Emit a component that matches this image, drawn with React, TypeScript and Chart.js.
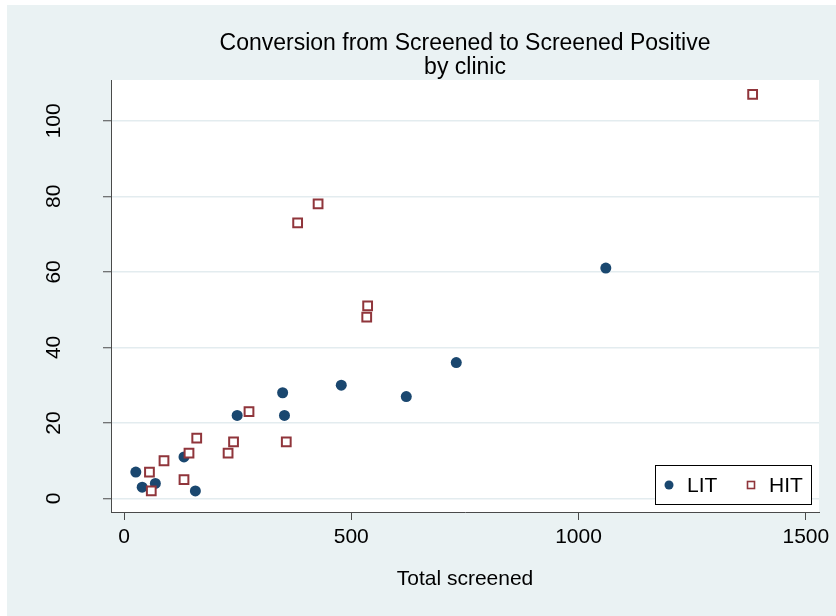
import { useEffect, useRef } from "react";
import { Chart, registerables } from "chart.js";

Chart.register(...registerables);

const titleLines = ["Conversion from Screened to Screened Positive", "by clinic"];
const xAxisTitle = "Total screened";
const seriesNames = ["LIT", "HIT"];

const litX = [26, 40, 69, 132, 157, 249, 349, 353, 478, 621, 731, 1060];
const litY = [7, 3, 4, 11, 2, 22, 28, 22, 30, 27, 36, 61];

const hitX = [56, 60, 88, 132, 143, 160, 229, 241, 275, 357, 382, 427, 534, 536, 1383];
const hitY = [7, 2, 10, 5, 12, 16, 12, 15, 23, 15, 73, 78, 48, 51, 107];

const xTicks = [0, 500, 1000, 1500];
const yTicks = [0, 20, 40, 60, 80, 100];

const FONT = '"Liberation Sans", Arial, Helvetica, sans-serif';
const BG = "#EAF2F3";
const AXIS = "#4a4a4a";
const LIT_COLOR = "#1A476F";
const HIT_COLOR = "#90353B";

const bgPlugin = {
  id: "stataBg",
  beforeDraw(chart: any) {
    const { ctx, width, height, chartArea: a } = chart;
    ctx.save();
    ctx.fillStyle = "#ffffff";
    ctx.fillRect(0, 0, width, height);
    ctx.fillStyle = BG;
    ctx.fillRect(7, 5, width - 7, height - 5);
    ctx.fillStyle = "#ffffff";
    ctx.fillRect(a.left, a.top, a.right - a.left, a.bottom - a.top);
    ctx.restore();
  },
};

const legendPlugin = {
  id: "boxLegend",
  afterDraw(chart: any) {
    const { ctx, chartArea: a } = chart;
    const w = 157;
    const h = 40;
    const x0 = a.right - 7 - w;
    const y0 = a.bottom - 7 - h;
    const ds = chart.data.datasets;
    ctx.save();
    ctx.fillStyle = "#ffffff";
    ctx.fillRect(x0, y0, w, h);
    ctx.strokeStyle = "#000000";
    ctx.lineWidth = 1;
    ctx.strokeRect(x0 + 0.5, y0 + 0.5, w - 1, h - 1);
    const cy = y0 + h / 2;
    ctx.fillStyle = ds[0].backgroundColor;
    ctx.beginPath();
    ctx.arc(x0 + 14, cy, 4.5, 0, Math.PI * 2);
    ctx.fill();
    ctx.font = `21px ${FONT}`;
    ctx.fillStyle = "#000000";
    ctx.textBaseline = "middle";
    ctx.textAlign = "left";
    ctx.fillText(ds[0].label, x0 + 32, cy + 1);
    ctx.strokeStyle = ds[1].borderColor;
    ctx.lineWidth = 1.6;
    ctx.strokeRect(x0 + 96 - 3.5, cy - 3.5, 7, 7);
    ctx.fillText(ds[1].label, x0 + 114, cy + 1);
    ctx.restore();
  },
};

export default function App() {
  const ref = useRef<HTMLCanvasElement | null>(null);

  useEffect(() => {
    if (!ref.current) return;
    Chart.defaults.font.family = FONT;
    const chart = new Chart(ref.current, {
      type: "scatter",
      data: {
        datasets: [
          {
            label: seriesNames[0],
            data: litX.map((x, i) => ({ x, y: litY[i] })),
            pointStyle: "circle",
            pointRadius: 5.5,
            backgroundColor: LIT_COLOR,
            borderColor: LIT_COLOR,
            borderWidth: 0,
            order: 1,
          },
          {
            label: seriesNames[1],
            data: hitX.map((x, i) => ({ x, y: hitY[i] })),
            pointStyle: "rect",
            pointRadius: 6.2,
            backgroundColor: "rgba(255,255,255,1)",
            borderColor: HIT_COLOR,
            borderWidth: 2,
            order: 0,
          },
        ],
      },
      options: {
        animation: false,
        responsive: false,
        events: [],
        layout: { padding: { top: 0, left: 0, right: 17, bottom: 0 } },
        plugins: {
          legend: { display: false },
          tooltip: { enabled: false },
          title: {
            display: true,
            text: titleLines,
            fullSize: false,
            color: "#000000",
            font: { size: 23, weight: "normal", family: FONT, lineHeight: 24 / 23 },
            padding: { top: 32, bottom: 0 },
          },
        },
        scales: {
          x: {
            type: "linear",
            min: -28.6,
            max: 1529,
            afterBuildTicks: (s: any) => {
              s.ticks = xTicks.map((v) => ({ value: v }));
            },
            afterFit: (s: any) => {
              s.height = 104;
            },
            grid: {
              display: true,
              drawOnChartArea: false,
              drawTicks: true,
              tickLength: 8,
              tickColor: AXIS,
              tickWidth: 1,
            },
            border: { display: true, color: AXIS, width: 1 },
            ticks: {
              color: "#000000",
              font: { size: 21, family: FONT },
              padding: 4.5,
              maxRotation: 0,
              minRotation: 0,
              autoSkip: false,
              callback: (v: any) => String(v),
            },
            title: {
              display: true,
              text: xAxisTitle,
              color: "#000000",
              font: { size: 21, family: FONT },
              padding: { top: 0, bottom: 24 },
            },
          },
          y: {
            type: "linear",
            min: -3.57,
            max: 110.8,
            afterBuildTicks: (s: any) => {
              s.ticks = yTicks.map((v) => ({ value: v }));
            },
            afterFit: (s: any) => {
              s.width = 111;
            },
            grid: {
              display: true,
              drawOnChartArea: true,
              color: "#E3ECEF",
              lineWidth: 1.5,
              drawTicks: true,
              tickLength: 8,
              tickColor: AXIS,
              tickWidth: 1,
            },
            border: { display: true, color: AXIS, width: 1 },
            ticks: {
              color: "#000000",
              font: { size: 21, family: FONT },
              padding: 31,
              minRotation: 90,
              maxRotation: 90,
              crossAlign: "center",
              autoSkip: false,
              callback: (v: any) => String(v),
            },
          },
        },
      },
      plugins: [bgPlugin, legendPlugin],
    } as any);
    return () => chart.destroy();
  }, []);

  return (
    <div style={{ position: "absolute", left: 0, top: 0, width: 836, height: 616 }}>
      <canvas ref={ref} width={836} height={616} style={{ display: "block", width: 836, height: 616 }} />
    </div>
  );
}
